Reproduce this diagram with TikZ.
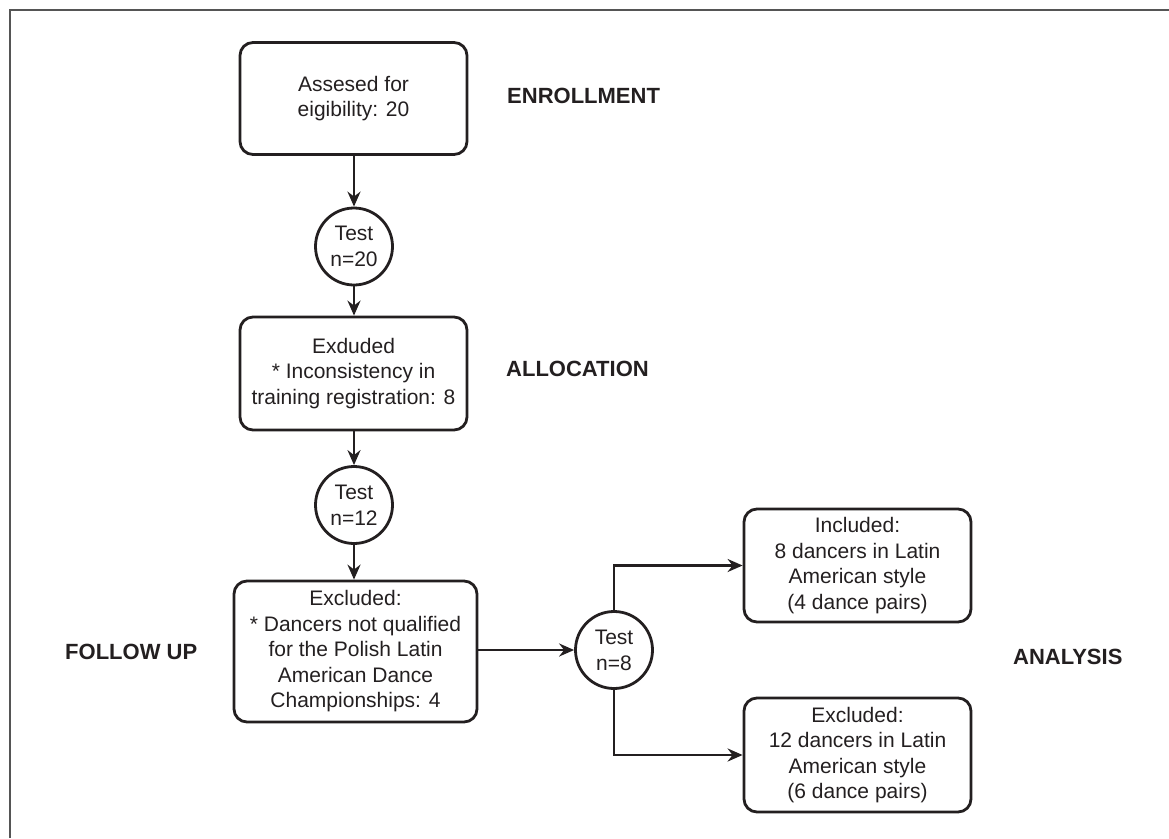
\documentclass[tikz,border=0pt]{standalone}
\usepackage{fontspec}
\setmainfont{Liberation Sans}
\usetikzlibrary{arrows.meta}
\definecolor{ink}{HTML}{231F20}
\definecolor{framegray}{HTML}{555555}
\begin{document}
\begin{tikzpicture}[x=1pt,y=-1pt,
  box/.style={draw=ink, line width=2.8pt, rounded corners=13pt, align=center, text=ink,
    font=\fontsize{21}{25.5}\selectfont, inner sep=0pt},
  testc/.style={draw=ink, line width=2.8pt, circle, minimum size=77pt, align=center, text=ink,
    font=\fontsize{21}{26}\selectfont, inner sep=0pt},
  stage/.style={anchor=west, text=ink, font=\fontsize{22}{26}\selectfont\bfseries, inner sep=0pt},
  conn/.style={draw=ink, line width=2.8pt, -{Stealth[length=15pt,width=13pt,inset=5pt]}}]
\useasboundingbox (0,0) rectangle (1169,838);
\draw[framegray, line width=1.6pt] (10,838) -- (10,10) -- (1169,10);

\node[box, minimum width=227pt, minimum height=112pt] (b1) at (353.5,98.5) {Assesed for\\eigibility: 20};
\node[testc] (c1) at (354,246.5) {Test\\n=20};
\node[box, minimum width=227pt, minimum height=113pt] (b2) at (353.5,373.5) {Exduded\\* Inconsistency in\\training registration: 8};
\node[testc] (c2) at (354,505) {Test\\n=12};
\node[box, minimum width=243pt, minimum height=141pt] (b3) at (355.5,651.5) {Excluded:\\* Dancers not qualified\\for the Polish Latin\\American Dance\\Championships: 4};
\node[testc] (c3) at (614,650) {Test\\n=8};
\node[box, minimum width=227pt, minimum height=113pt] (inc) at (857.5,565.5) {Included:\\8 dancers in Latin\\American style\\(4 dance pairs)};
\node[box, minimum width=227pt, minimum height=114pt] (exc) at (857.5,755) {Excluded:\\12 dancers in Latin\\American style\\(6 dance pairs)};

\node[stage] (enr) at (507,96) {ENROLLMENT};
\node[stage] (all) at (506,369) {ALLOCATION};
\node[stage] (fol) at (65,652) {FOLLOW UP};
\node[stage] (ana) at (1013,657) {ANALYSIS};

\draw[conn] (b1.south -| c1.north) -- (c1.north);
\draw[conn] (c1.south) -- (c1.south |- b2.north);
\draw[conn] (b2.south -| c2.north) -- (c2.north);
\draw[conn] (c2.south) -- (c2.south |- b3.north);
\draw[conn] (b3.east |- c3.west) -- (c3.west);
\draw[conn] (c3.north) |- (inc.west);
\draw[conn] (c3.south) |- (exc.west);
\end{tikzpicture}
\end{document}
